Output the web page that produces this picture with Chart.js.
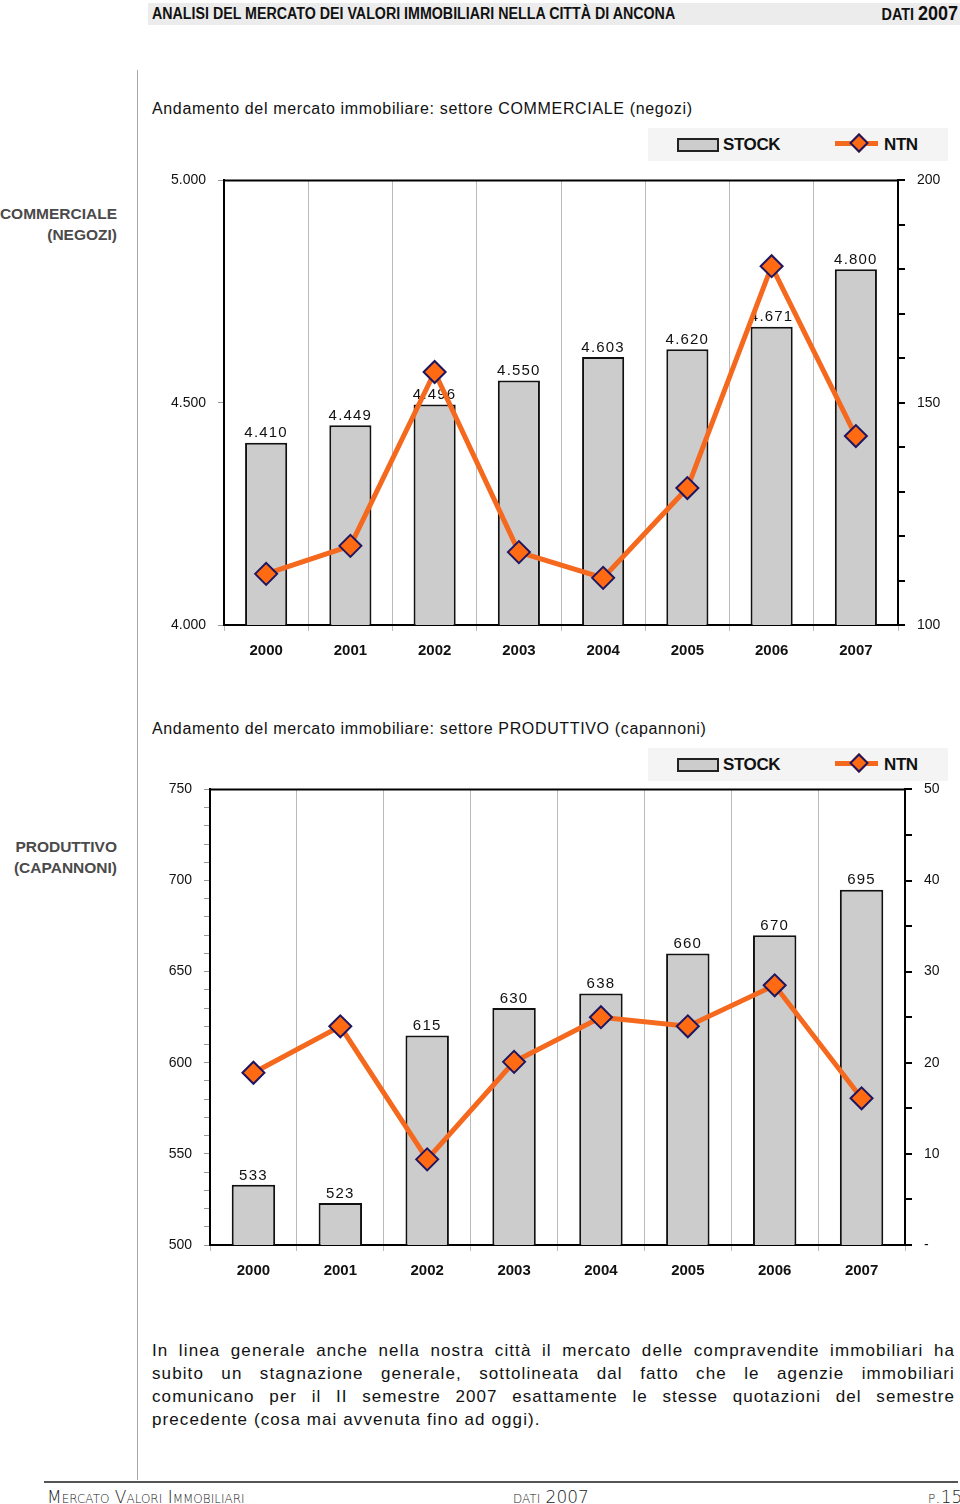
<!DOCTYPE html>
<html>
<head>
<meta charset="utf-8">
<script src="https://cdn.jsdelivr.net/npm/chart.js@4.4.1/dist/chart.umd.min.js"></script>
<style>
  html, body { margin:0; padding:0; background:#fff; }
  body { width:960px; height:1504px; position:relative; overflow:hidden; font-family:"Liberation Sans", Arial, sans-serif; color:#111; }
  .abs { position:absolute; }
  .hdr { left:148px; top:3px; width:812px; height:22px; background:#ececec; }
  .hdr-l { left:152px; top:4px; font-weight:bold; font-size:16px; line-height:20px; color:#111; transform:scaleX(0.89); transform-origin:left center; white-space:nowrap; }
  .hdr-r { right:2px; top:1px; font-weight:bold; color:#111; line-height:24px; transform:scaleX(0.9); transform-origin:right center; }
  .hdr-r .s { font-size:16px; } .hdr-r .b { font-size:20px; }
  .vline { left:137px; top:70px; width:1px; height:1410px; background:#a8a8a8; }
  .title { left:152px; font-size:16px; letter-spacing:0.65px; line-height:20px; color:#111; }
  .side { right:843px; text-align:right; font-weight:bold; font-size:15.5px; line-height:21px; color:#4a4a4a; }
  .legend { left:648px; width:300px; height:33px; background:#f4f4f4; }
  .sw { position:absolute; left:29px; top:10px; width:38px; height:10px; background:#cccccc; border:2px solid #222; }
  .lt { position:absolute; font-weight:bold; font-size:17px; letter-spacing:-0.4px; top:7px; line-height:20px; color:#111; }
  .ll { position:absolute; left:187px; top:13px; width:43px; height:5px; background:#f5691e; }
  .ld { position:absolute; left:204px; top:8px; width:10px; height:10px; background:#ff6a13; border:2px solid #1e1660; transform:rotate(45deg); }
  canvas { position:absolute; }
  .para { left:152px; top:1339px; width:803px; font-size:17px; letter-spacing:1.1px; line-height:23px; color:#111; }
  .para div { text-align:justify; text-align-last:justify; }
  .para div.last { text-align-last:left; }
  .fline { left:44px; top:1481px; width:914px; height:2px; background:#555; }
  .foot { top:1487px; font-variant:small-caps; font-size:17px; letter-spacing:0px; color:#222; line-height:20px; font-family:"DejaVu Sans", sans-serif; font-weight:200; }
</style>
</head>
<body>
<div class="abs hdr"></div>
<div class="abs hdr-l">ANALISI DEL MERCATO DEI VALORI IMMOBILIARI NELLA CITTÀ DI ANCONA</div>
<div class="abs hdr-r"><span class="s">DATI</span> <span class="b">2007</span></div>
<div class="abs vline"></div>

<div class="abs title" style="top:99px">Andamento del mercato immobiliare: settore COMMERCIALE (negozi)</div>
<div class="abs legend" style="top:128px"><div class="sw"></div><div class="lt" style="left:75px">STOCK</div><div class="ll"></div><div class="ld"></div><div class="lt" style="left:236px">NTN</div></div>
<div class="abs side" style="top:203px">COMMERCIALE<br>(NEGOZI)</div>
<canvas id="c1" width="800" height="510" style="left:150px; top:160px; width:800px; height:510px"></canvas>

<div class="abs title" style="top:719px">Andamento del mercato immobiliare: settore PRODUTTIVO (capannoni)</div>
<div class="abs legend" style="top:748px"><div class="sw"></div><div class="lt" style="left:75px">STOCK</div><div class="ll"></div><div class="ld"></div><div class="lt" style="left:236px">NTN</div></div>
<div class="abs side" style="top:836px">PRODUTTIVO<br>(CAPANNONI)</div>
<canvas id="c2" width="800" height="526" style="left:150px; top:769px; width:800px; height:526px"></canvas>

<div class="abs para">
  <div>In linea generale anche nella nostra città il mercato delle compravendite immobiliari ha</div>
  <div>subito un stagnazione generale, sottolineata dal fatto che le agenzie immobiliari</div>
  <div>comunicano per il II semestre 2007 esattamente le stesse quotazioni del semestre</div>
  <div class="last">precedente (cosa mai avvenuta fino ad oggi).</div>
</div>

<div class="abs fline"></div>
<div class="abs foot" style="left:47px">Mercato Valori Immobiliari</div>
<div class="abs foot" style="left:513px">dati 2007</div>
<div class="abs foot" style="left:928px">p.15</div>

<script>
// ---- data ----
const years = ['2000','2001','2002','2003','2004','2005','2006','2007'];
const commStock = [4410, 4449, 4496, 4550, 4603, 4620, 4671, 4800];
const commNTN   = [111.5, 117.8, 156.9, 116.4, 110.6, 130.8, 180.7, 142.5];
const prodStock = [533, 523, 615, 630, 638, 660, 670, 695];
const prodNTN   = [18.9, 24.0, 9.4, 20.1, 25.0, 24.0, 28.5, 16.1];

function fmt(v) { return String(v).replace(/\B(?=(\d{3})+(?!\d))/g, '.'); }

const barLabels = {
  id: 'barLabels',
  afterDatasetDraw(chart, args) {
    if (args.index !== 0) return;
    const ctx = chart.ctx;
    const meta = chart.getDatasetMeta(0);
    const data = chart.data.datasets[0].data;
    ctx.save();
    ctx.font = '15px "Liberation Sans", Arial, sans-serif';
    if ('letterSpacing' in ctx) ctx.letterSpacing = '1.2px';
    ctx.fillStyle = '#111';
    ctx.textAlign = 'center';
    ctx.textBaseline = 'bottom';
    meta.data.forEach((bar, i) => {
      ctx.fillText(fmt(data[i]), bar.x, bar.y - 2);
    });
    ctx.restore();
  }
};
const topBorder = {
  id: 'topBorder',
  afterDraw(chart) {
    const a = chart.chartArea, ctx = chart.ctx;
    ctx.save();
    ctx.strokeStyle = '#000'; ctx.lineWidth = 2;
    ctx.beginPath(); ctx.moveTo(a.left - 1, a.top); ctx.lineTo(a.right + 1, a.top); ctx.stroke();
    ctx.restore();
  }
};

function makeChart(id, stock, ntn, o) {
  return new Chart(document.getElementById(id), {
    data: {
      labels: years,
      datasets: [
        { type:'bar', label:'STOCK', data:stock, yAxisID:'y', order:2,
          backgroundColor:'#cccccc', borderColor:'#111', borderWidth:2,
          categoryPercentage:1.0, barPercentage:0.5 },
        { type:'line', label:'NTN', data:ntn, yAxisID:'y1', order:1,
          borderColor:'#f5691e', borderWidth:5, tension:0,
          pointStyle:'rectRot', pointRadius:11, pointHoverRadius:11,
          pointBackgroundColor:'#ff6a13', pointBorderColor:'#1e1660', pointBorderWidth:2 }
      ]
    },
    options: {
      responsive:false, animation:false, devicePixelRatio:1,
      layout:{ padding:{ top:0, left:0, right:0, bottom:0 } },
      plugins:{ legend:{display:false}, tooltip:{enabled:false} },
      scales: {
        x: {
          offset:true,
          grid:{ display:true, color:'#bbbbbb', lineWidth:1, tickLength:6, offset:true },
          border:{ display:true, color:'#000', width:2 },
          ticks:{ color:'#111', font:{ family:'"Liberation Sans", Arial, sans-serif', size:15, weight:'bold' }, padding:11 },
          afterFit(s){ s.height = o.xH; }
        },
        y: {
          position:'left', min:o.yMin, max:o.yMax,
          grid:{ drawOnChartArea:false, color:'#999', tickLength:6 },
          border:{ display:true, color:'#000', width:2 },
          ticks:{ stepSize:o.yStep, autoSkip:false, color:'#111', padding:12,
                  font:{ family:'"Liberation Sans", Arial, sans-serif', size:14 },
                  callback:(v) => (v % o.yLab === 0 ? fmt(v) : '') },
          afterFit(s){ s.width = o.yW; }
        },
        y1: {
          position:'right', min:o.rMin, max:o.rMax,
          grid:{ drawOnChartArea:false, color:'#000', lineWidth:2, tickLength:7 },
          border:{ display:true, color:'#000', width:2 },
          ticks:{ stepSize:o.rStep, autoSkip:false, color:'#111', padding:12,
                  font:{ family:'"Liberation Sans", Arial, sans-serif', size:14 },
                  callback:(v) => (v % o.rLab === 0 ? (v === 0 ? '-' : String(v)) : '') },
          afterFit(s){ s.width = o.rW; }
        }
      }
    },
    plugins:[barLabels, topBorder]
  });
}

makeChart('c1', commStock, commNTN,
  { xH:45, yMin:4000, yMax:5000, yStep:500, yLab:500, yW:74,
    rMin:100, rMax:200, rStep:10, rLab:50, rW:52 });
makeChart('c2', prodStock, prodNTN,
  { xH:50, yMin:500, yMax:750, yStep:10, yLab:50, yW:60,
    rMin:0, rMax:50, rStep:5, rLab:10, rW:45 });
</script>
</body>
</html>
